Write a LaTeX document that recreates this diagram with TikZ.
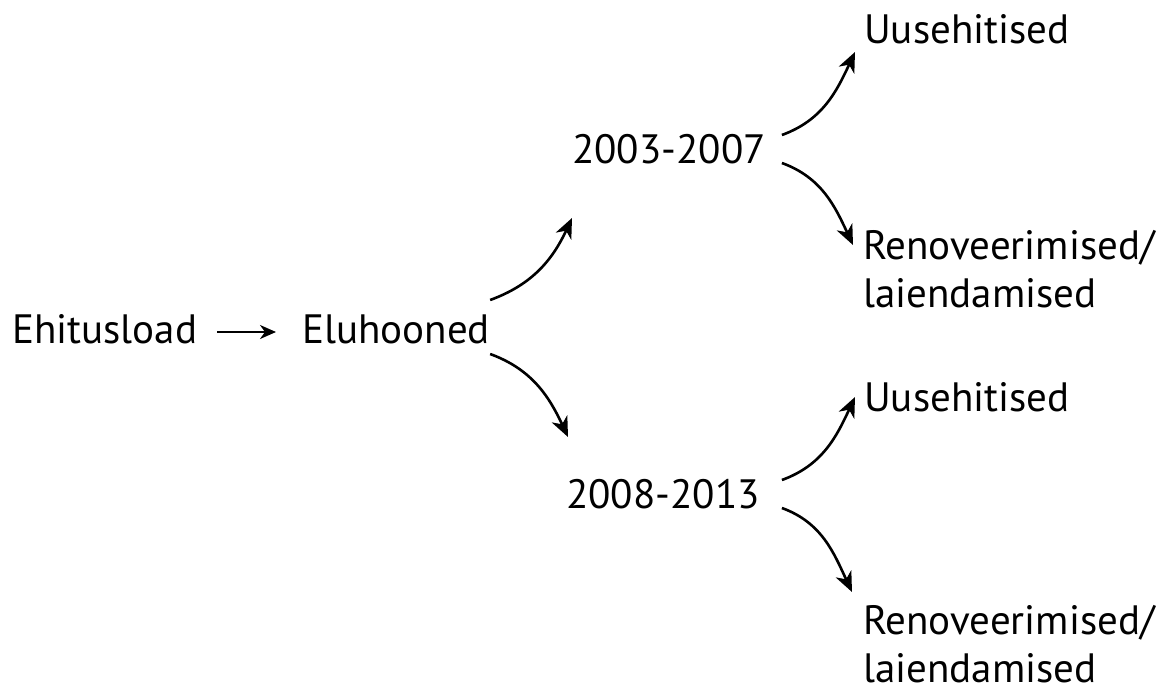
\documentclass[tikz,border=0pt]{standalone}
\usepackage{fontspec}
\setmainfont{PT Sans}
\usepackage{tikz}
\usetikzlibrary{arrows,arrows.meta,calc}

\begin{document}
\begin{tikzpicture}[x=1pt,y=1pt,
  lbl/.style={anchor=base west,inner sep=0pt,font=\fontsize{41}{48}\selectfont},
  arr/.style={-{Stealth[length=20pt,width=17pt,inset=6pt]},line width=2.6pt}]
\useasboundingbox (0,0) rectangle (1171,-694);
\node[lbl] (ehitus) at (12,-343) {Ehitusload};
\node[lbl] (eluhooned) at (302,-343) {Eluhooned};
\node[lbl] (p1) at (572,-163) {2003-2007};
\node[lbl] (p2) at (566,-508) {2008-2013};
\node[lbl] (uus1) at (864,-43) {Uusehitised};
\node[lbl,align=left] (ren1) at (863,-307) {Renoveerimised/\\laiendamised};
\node[lbl] (uus2) at (864,-411) {Uusehitised};
\node[lbl,align=left] (ren2) at (863,-682) {Renoveerimised/\\laiendamised};
\draw[-{Stealth[length=16pt,width=14pt,inset=5pt]},line width=2pt,shorten <=20pt,shorten >=26pt]
  ([yshift=11pt]ehitus.base east) -- ([yshift=11pt]eluhooned.base west);
\draw[arr] ([yshift=43pt]eluhooned.base east) to[out=20,in=-115] ([yshift=-55pt]p1.base west);
\draw[arr] ([yshift=-11pt]eluhooned.base east) to[out=-20,in=115] ([shift={(2pt,71pt)}]p2.base west);
\draw[arr] ([shift={(16pt,28pt)}]p1.base east) to[out=20,in=-115] ([shift={(-9pt,-9pt)}]uus1.base west);
\draw[arr] ([xshift=16pt]p1.base east) to[out=-20,in=115] ([shift={(-10pt,62pt)}]ren1.base west);
\draw[arr] ([shift={(22pt,28pt)}]p2.base east) to[out=20,in=-115] ([shift={(-9pt,14pt)}]uus2.base west);
\draw[arr] ([xshift=22pt]p2.base east) to[out=-20,in=115] ([shift={(-11pt,90pt)}]ren2.base west);
\end{tikzpicture}
\end{document}
